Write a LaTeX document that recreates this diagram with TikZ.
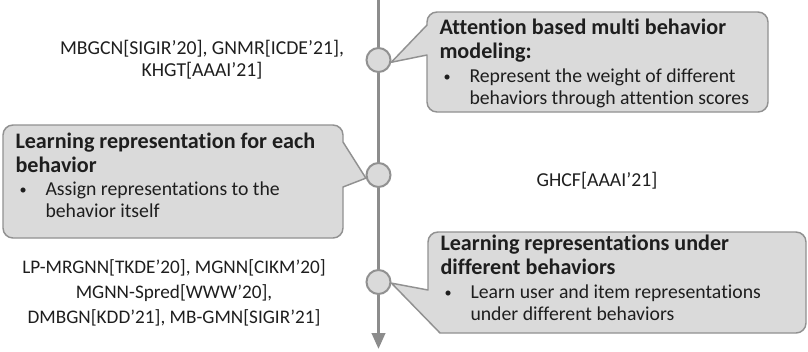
\documentclass[tikz,border=0pt]{standalone}
\usepackage{fontspec}
\setmainfont[Ligatures=NoCommon]{Carlito}
\usetikzlibrary{arrows.meta,backgrounds}

\definecolor{calloutfill}{RGB}{218,218,218}
\definecolor{calloutline}{RGB}{145,145,145}
\definecolor{axisgrey}{RGB}{140,140,140}
\definecolor{inkgrey}{RGB}{30,30,30}

% bullet with two lines of text
\newcommand{\bulletpair}[2]{\begin{tabular}{@{}l@{}l@{}}\makebox[19.5pt][l]{\raisebox{0.09em}{\scalebox{0.72}{\textbullet}}} & #1\\ & #2\end{tabular}}

\tikzset{every picture/.style={line width=0.75pt}}
\tikzset{
  callout/.style={draw=calloutline, fill=calloutfill, line width=1.1pt, line join=round},
  stage/.style={circle, draw=calloutline, fill=calloutfill, line width=1.5pt, minimum size=18pt, inner sep=0pt},
  heading/.style={anchor=north west, inner sep=0pt, align=left, text=inkgrey, font=\fontsize{16.6}{18}\selectfont\bfseries},
  point/.style={anchor=north west, inner sep=0pt, text=inkgrey, font=\fontsize{14.8}{16.5}\selectfont},
  works/.style={anchor=north, inner sep=0pt, align=center, text=inkgrey, font=\fontsize{14.8}{16.5}\selectfont},
}

\begin{document}
\begin{tikzpicture}[x=0.75pt,y=0.75pt,yscale=-1,xscale=1]
\useasboundingbox (0,0) rectangle (808,351);

%Time axis
\coordinate (top) at (378.5,0);
\coordinate (bottom) at (378.5,349);
\draw [axisgrey, line width=2.25pt, -{Triangle[length=12pt,width=10pt]}] (top) -- (bottom);

%Stages on the axis
\node [stage] (c1) at (378.5,60) {};
\node [stage] (c2) at (378.5,175) {};
\node [stage] (c3) at (378.5,282) {};

\begin{scope}[on background layer]
%Callout: attention based modeling
\draw [callout] (427,25) -- (427,22) arc (180:270:7.5pt) -- (758,12) arc (270:360:7.5pt) -- (768,102) arc (0:90:7.5pt) -- (437,112) arc (90:180:7.5pt) -- (427,55) -- (c1.-10) -- cycle;
%Callout: representation for each behavior
\draw [callout] (343,142) -- (343,135) arc (0:-90:7.5pt) -- (13,125) arc (270:180:7.5pt) -- (3,228) arc (180:90:7.5pt) -- (333,238) arc (90:0:7.5pt) -- (343,187) -- (c2.194) -- cycle;
%Callout: representations under different behaviors
\draw [callout] (428,290) -- (428,242) arc (180:270:7.5pt) -- (796,232) arc (270:360:7.5pt) -- (806,323) arc (0:90:7.5pt) -- (440,333) -- (c3.-5) -- cycle;
\end{scope}

% Text in the callouts
\node [heading] (h1) at (439,18.5) {Attention based multi behavior\\modeling:};
\node [point] (p1) at (443,67) {\bulletpair{Represent the weight of different}{behaviors through attention scores}};

\node [heading] (h2) at (15,132.5) {Learning representation for each\\behavior};
\node [point] (p2) at (19,180) {\bulletpair{Assign representations to the}{behavior itself}};

\node [heading] (h3) at (440,234.5) {Learning representations under\\different behaviors};
\node [point] (p3) at (444,283) {\bulletpair{Learn user and item representations}{under different behaviors}};

% Works beside the axis
\node [works] (w1) at (202,40) {MBGCN[SIGIR’20], GNMR[ICDE’21],\\KHGT[AAAI’21]};
\node [works] (w2) at (597,172) {GHCF[AAAI’21]};
\node [works, font=\fontsize{14.4}{18.75}\selectfont] (w3) at (174,259) {LP-MRGNN[TKDE’20], MGNN[CIKM’20]\\MGNN-Spred[WWW’20],\\DMBGN[KDD’21], MB-GMN[SIGIR’21]};

\end{tikzpicture}
\end{document}
